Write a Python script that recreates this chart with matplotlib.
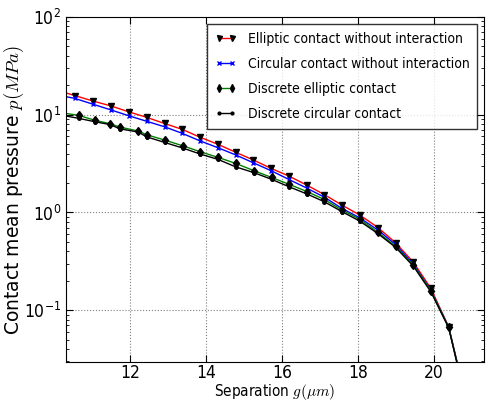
import matplotlib
matplotlib.use("Agg")
import matplotlib.pyplot as plt

# ---------------------- DATA ----------------------
x_ell = [10.32, 10.55, 11.03, 11.50, 11.97, 12.45, 12.91, 13.38, 13.84, 14.32, 14.79,
         15.25, 15.72, 16.18, 16.66, 17.12, 17.58, 18.05, 18.53, 18.99, 19.46,
         19.92, 20.39, 20.85]
p_ell = [16.7, 15.7, 13.8, 12.3, 10.7, 9.38, 8.14, 7.07, 5.90, 4.97, 4.12,
         3.44, 2.82, 2.36, 1.90, 1.52, 1.19, 0.94, 0.70, 0.49, 0.31,
         0.167, 0.0675, 0.012]
p_circ = [15.3, 14.7, 12.8, 11.2, 9.76, 8.55, 7.53, 6.44, 5.41, 4.59, 3.87,
          3.22, 2.67, 2.18, 1.77, 1.43, 1.10, 0.88, 0.66, 0.47, 0.296,
          0.160, 0.0665, 0.0118]

x_disc = [10.32, 10.65, 11.08, 11.48, 11.73, 12.22, 12.44, 12.91, 13.39, 13.85, 14.32,
          14.78, 15.27, 15.73, 16.19, 16.67, 17.11, 17.58, 18.05, 18.52, 18.99,
          19.46, 19.92, 20.39, 20.85]
p_disc_ell = [10.3, 9.86, 8.76, 8.09, 7.48, 6.81, 6.24, 5.51, 4.81, 4.18, 3.66,
              3.18, 2.67, 2.28, 1.94, 1.63, 1.36, 1.06, 0.85, 0.63, 0.45,
              0.289, 0.158, 0.0665, 0.0116]
p_disc_circ = [9.7, 9.19, 8.47, 7.93, 7.18, 6.65, 5.94, 5.21, 4.56, 3.96, 3.49,
               2.93, 2.55, 2.18, 1.83, 1.54, 1.29, 1.02, 0.815, 0.61, 0.44,
               0.282, 0.154, 0.066, 0.0114]

labels = ["Elliptic contact without interaction",
          "Circular contact without interaction",
          "Discrete elliptic contact",
          "Discrete circular contact"]

# ---------------------- STYLE ----------------------
plt.rcParams["font.stretch"] = "condensed"
plt.rcParams["mathtext.fontset"] = "cm"
plt.rcParams["xtick.direction"] = "in"
plt.rcParams["ytick.direction"] = "in"
plt.rcParams["xtick.top"] = True
plt.rcParams["ytick.right"] = True

fig = plt.figure(figsize=(4.86, 4.07), dpi=100)
ax = fig.add_axes([0.136, 0.1106, 0.86, 0.8476])

skip = slice(1, None)
ax.plot(x_ell, p_ell, color="red", lw=1.0, marker="v", ms=4.5, mfc="black",
        mec="black", markevery=skip, label=labels[0])
ax.plot(x_ell, p_circ, color="blue", lw=1.0, marker="x", ms=3.5, mew=1.0,
        mec="blue", markevery=skip, label=labels[1])
ax.plot(x_disc, p_disc_ell, color="green", lw=1.0, marker="d", ms=4.5, mfc="black",
        mec="black", markevery=skip, label=labels[2])
ax.plot(x_disc, p_disc_circ, color="black", lw=1.0, marker="o", ms=2.5, mfc="black",
        mec="black", markevery=skip, label=labels[3])

ax.set_yscale("log")
ax.set_xlim(10.32, 21.32)
ax.set_ylim(0.0295, 100)
ax.set_xticks([12, 14, 16, 18, 20])
ax.tick_params(which="major", length=5, labelsize=12.5)
ax.tick_params(which="minor", length=2.5)
ax.tick_params(axis="x", pad=1.5)
ax.grid(True, which="major", color="gray", linestyle=":", linewidth=0.8)

ax.set_xlabel(r"Separation $g(\mu m)$", fontsize=11, labelpad=0)
ax.set_ylabel(r"Contact mean pressure $p(MPa)$", fontsize=13.5, fontstretch="normal",
              labelpad=-1.5)

leg = ax.legend(loc="upper right", fontsize=10, fancybox=False, numpoints=2,
                handlelength=1.6, handletextpad=0.8, borderaxespad=0.5,
                labelspacing=0.8, borderpad=0.55, markerscale=0.8)
leg.get_frame().set_edgecolor("black")
leg.get_frame().set_linewidth(1.0)

fig.savefig("out.png", dpi=100)
